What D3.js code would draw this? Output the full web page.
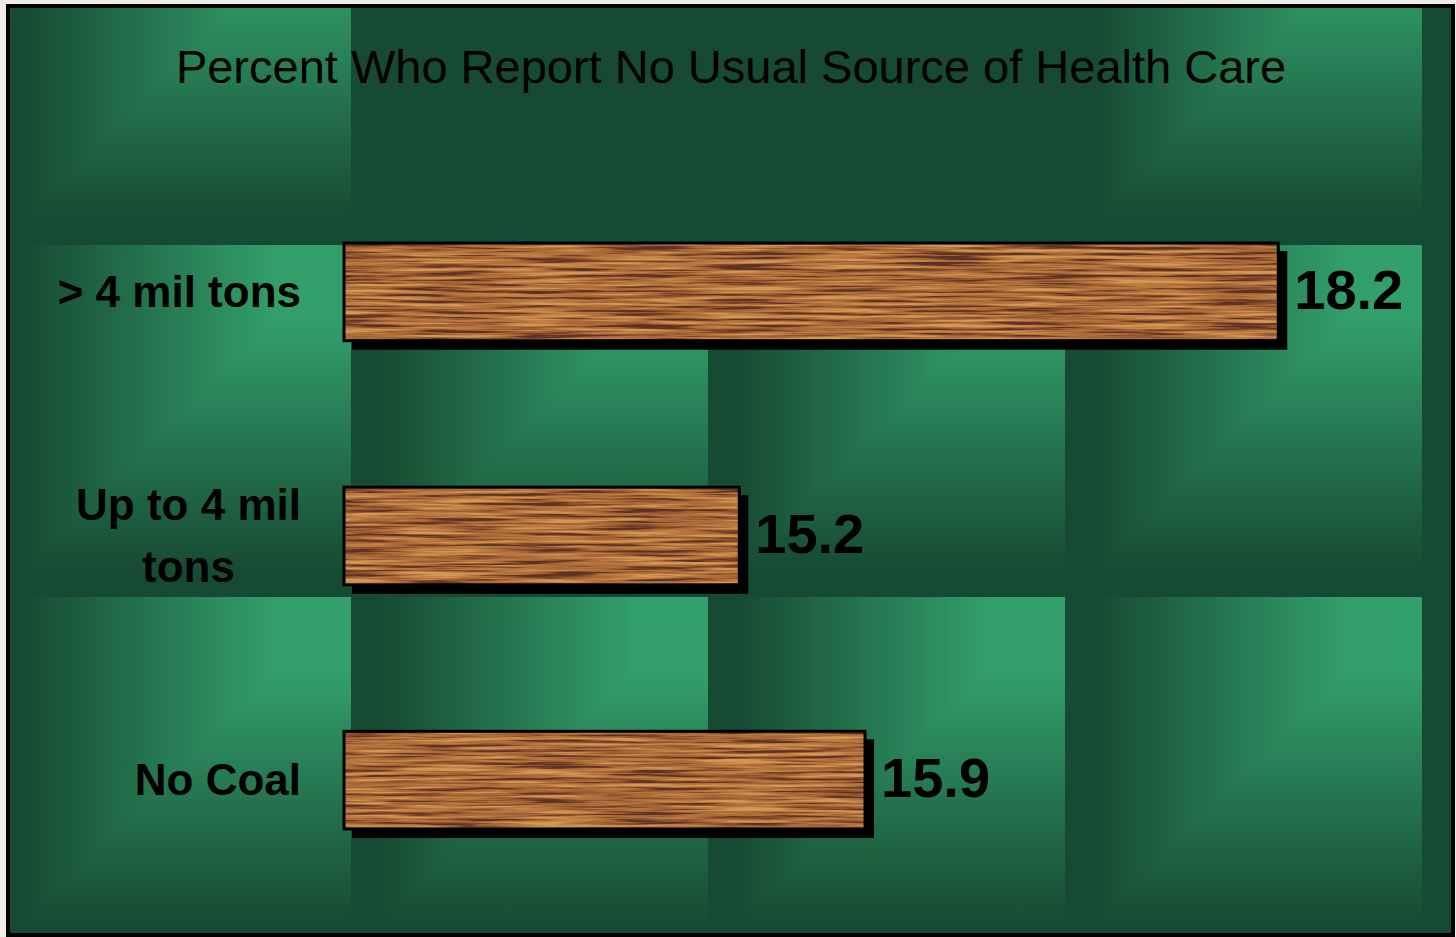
<!DOCTYPE html>
<html lang="en">
<head>
	<title>No Usual Source of Health Care</title>
	<script src="https://d3js.org/d3.v7.min.js" charset="utf-8"></script>
	<style>
		body { margin: 0; background: #efece3; }
		svg { display: block; }
		text { font-family: "Liberation Sans", Arial, sans-serif; fill: #000; }
	</style>
</head>
<body>
	<script>
		var categories = [ "> 4 mil tons", "Up to 4 mil tons", "No Coal" ];
		var values = [ 18.2, 15.2, 15.9 ];
		var title = "Percent Who Report No Usual Source of Health Care";

		var w = 1456;
		var h = 937;
		var dark = "#174a32";
		var bright = "#33a06b";

		var svg = d3.select("body")
			.append("svg")
			.attr("width", w)
			.attr("height", h);

		var defs = svg.append("defs");

		// inner area of the frame
		defs.append("clipPath").attr("id", "inner")
			.append("rect")
			.attr("x", 10).attr("y", 8)
			.attr("width", 1441).attr("height", 925);

		// tile gradients: left→right brightening, top→bottom darkening
		var hg = defs.append("linearGradient").attr("id", "hgrad")
			.attr("x1", 0).attr("y1", 0).attr("x2", 1).attr("y2", 0);
		hg.append("stop").attr("offset", 0.08).attr("stop-color", dark);
		hg.append("stop").attr("offset", 0.80).attr("stop-color", bright);

		var vg = defs.append("linearGradient").attr("id", "vgrad")
			.attr("x1", 0).attr("y1", 0).attr("x2", 0).attr("y2", 1);
		vg.append("stop").attr("offset", 0.2).attr("stop-color", bright);
		vg.append("stop").attr("offset", 0.93).attr("stop-color", dark);

		// wood grain texture
		var wood = defs.append("filter").attr("id", "wood")
			.attr("x", 0).attr("y", 0).attr("width", 1).attr("height", 1)
			.attr("color-interpolation-filters", "sRGB");
		wood.append("feTurbulence")
			.attr("type", "fractalNoise")
			.attr("baseFrequency", "0.01 0.32")
			.attr("numOctaves", 4)
			.attr("seed", 7)
			.attr("result", "noise");
		wood.append("feColorMatrix")
			.attr("type", "matrix")
			.attr("values", "2.4 0 0 0 -0.7  2.4 0 0 0 -0.7  2.4 0 0 0 -0.7  0 0 0 0 1");
		var ct = wood.append("feComponentTransfer");
		ct.append("feFuncR").attr("type", "table").attr("tableValues", "0.36 0.52 0.64 0.70 0.76 0.83");
		ct.append("feFuncG").attr("type", "table").attr("tableValues", "0.20 0.29 0.39 0.45 0.51 0.60");
		ct.append("feFuncB").attr("type", "table").attr("tableValues", "0.15 0.17 0.21 0.24 0.27 0.33");
		wood.append("feComposite").attr("in2", "SourceGraphic").attr("operator", "in");

		// background tiles
		var tileW = 357, tileH = 352, tileX0 = -6, tileY0 = -107;
		var tiles = [];
		for (var r = 0; r < 4; r++) {
			for (var c = 0; c < 5; c++) {
				var solid = (c == 4) || (r == 0 && (c == 1 || c == 2));
				tiles.push({ x: tileX0 + c * tileW, y: tileY0 + r * tileH, solid: solid });
			}
		}

		var bg = svg.append("g").attr("clip-path", "url(#inner)");
		bg.append("rect").attr("x", 0).attr("y", 0).attr("width", w).attr("height", h).attr("fill", dark);

		var tileG = bg.selectAll("g.tile")
			.data(tiles.filter(function(d) { return !d.solid; }))
			.enter()
			.append("g")
			.attr("class", "tile")
			.style("isolation", "isolate")
			.attr("transform", function(d) { return "translate(" + d.x + "," + d.y + ")"; });
		tileG.append("rect")
			.attr("width", tileW).attr("height", tileH)
			.attr("fill", "url(#hgrad)");
		tileG.append("rect")
			.attr("width", tileW).attr("height", tileH)
			.attr("fill", "url(#vgrad)")
			.style("mix-blend-mode", "darken");

		// frame
		svg.append("rect")
			.attr("x", 8).attr("y", 6)
			.attr("width", 1445).attr("height", 929)
			.attr("fill", "none")
			.attr("stroke", "#000")
			.attr("stroke-width", 4);

		// scales
		var xScale = d3.scaleLinear()
			.domain([13, 19])
			.range([344, 1422]);

		var yScale = d3.scaleBand()
			.domain(categories)
			.range([121, 951])
			.paddingInner(0.6)
			.paddingOuter(0.5);

		var x0 = xScale(13);

		// shadows
		svg.selectAll("rect.shadow")
			.data(values)
			.enter()
			.append("rect")
			.attr("class", "shadow")
			.attr("x", x0 + 8)
			.attr("y", function(d, i) { return yScale(categories[i]) + 8; })
			.attr("width", function(d) { return xScale(d) - x0 + 1; })
			.attr("height", yScale.bandwidth() + 1)
			.attr("fill", "#000");

		// bars
		svg.selectAll("rect.bar")
			.data(values)
			.enter()
			.append("rect")
			.attr("class", "bar")
			.attr("x", x0)
			.attr("y", function(d, i) { return yScale(categories[i]); })
			.attr("width", function(d) { return xScale(d) - x0; })
			.attr("height", yScale.bandwidth())
			.attr("fill", "#a86c3a")
			.attr("filter", "url(#wood)");

		svg.selectAll("rect.edge")
			.data(values)
			.enter()
			.append("rect")
			.attr("class", "edge")
			.attr("x", x0)
			.attr("y", function(d, i) { return yScale(categories[i]); })
			.attr("width", function(d) { return xScale(d) - x0; })
			.attr("height", yScale.bandwidth())
			.attr("fill", "none")
			.attr("stroke", "#000")
			.attr("stroke-width", 3);

		// value labels
		svg.selectAll("text.value")
			.data(values)
			.enter()
			.append("text")
			.attr("class", "value")
			.attr("x", function(d) { return xScale(d) + 16; })
			.attr("y", function(d, i) { return yScale(categories[i]) + yScale.bandwidth() / 2 + 17; })
			.attr("font-size", 56)
			.attr("font-weight", "bold")
			.text(function(d) { return d.toFixed(1); });

		// category labels, wrapped and right aligned as a block
		var labelRight = 301, maxW = 260, lineH = 62;
		categories.forEach(function(cat) {
			var t = svg.append("text")
				.attr("font-size", 44)
				.attr("font-weight", "bold")
				.attr("text-anchor", "middle");
			var words = cat.split(" ");
			var lines = [];
			var line = [];
			var probe = t.append("tspan");
			words.forEach(function(wd) {
				line.push(wd);
				probe.text(line.join(" "));
				if (probe.node().getComputedTextLength() > maxW && line.length > 1) {
					line.pop();
					lines.push(line.join(" "));
					line = [wd];
				}
			});
			lines.push(line.join(" "));
			var widest = 0;
			lines.forEach(function(l) {
				probe.text(l);
				widest = Math.max(widest, probe.node().getComputedTextLength());
			});
			probe.remove();
			var cx = labelRight - widest / 2;
			var cy = yScale(cat) + yScale.bandwidth() / 2;
			var top = cy - (lines.length - 1) * lineH / 2 + 15;
			lines.forEach(function(l, i) {
				t.append("tspan")
					.attr("x", cx)
					.attr("y", top + i * lineH)
					.text(l);
			});
		});

		// title
		svg.append("text")
			.attr("x", 731)
			.attr("y", 83)
			.attr("text-anchor", "middle")
			.attr("font-size", 47)
			.text(title);
	</script>
</body>
</html>
